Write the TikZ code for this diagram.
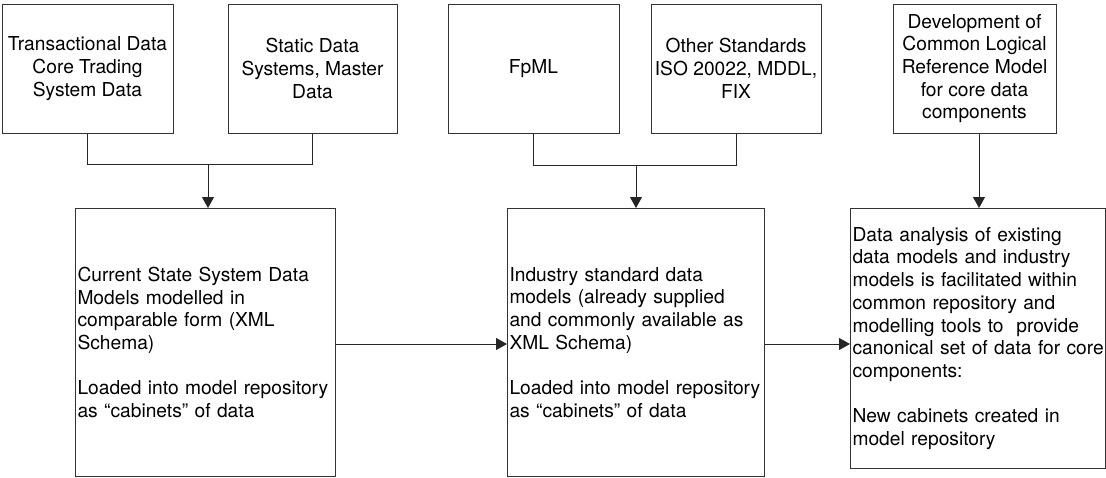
\documentclass[tikz,border=0pt]{standalone}
\usepackage{fontspec}
\setmainfont{TeX Gyre Heros}
\usetikzlibrary{arrows.meta}
\begin{document}
\begin{tikzpicture}[x=1pt,y=-1pt,
  font=\fontsize{19.2}{22.7}\selectfont,
  srcbox/.style={draw=black!80, line width=1pt, inner sep=0pt, align=center},
  modelbox/.style={draw=black!80, line width=1pt, inner xsep=2pt, inner ysep=0pt,
                   align=left, anchor=north west},
  link/.style={draw=black!85, line width=1pt},
  arr/.style={link, -{Triangle[length=11pt,width=12pt]}}]
\useasboundingbox (0,0) rectangle (1106,477);

% source boxes along the top
\node[srcbox, minimum width=171pt, minimum height=129pt] (t1) at (87.5,68.5)
  {Transactional Data\\Core Trading\\System Data};
\node[srcbox, minimum width=169pt, minimum height=129pt] (t2) at (312.5,68.5)
  {Static Data\\Systems, Master\\Data};
\node[srcbox, minimum width=171pt, minimum height=129pt] (t3) at (533.5,68.5)
  {FpML};
\node[srcbox, minimum width=170pt, minimum height=129pt] (t4) at (736,68.5)
  {Other Standards\\ISO 20022, MDDL,\\FIX};
\node[srcbox, minimum width=163pt, minimum height=129pt] (t5) at (974.5,68.5)
  {Development of\\Common Logical\\Reference Model\\for core data\\components};

% model boxes along the bottom
\node[modelbox, text width=256pt, minimum height=268pt] (b1) at (75,208)
  {Current State System Data\\Models modelled in\\comparable form (XML\\Schema)\\[22.7pt]
   Loaded into model repository\\as “cabinets” of data};
\node[modelbox, text width=253pt, minimum height=268pt] (b2) at (507,208)
  {Industry standard data\\models (already supplied\\and commonly available as\\XML Schema)\\[22.7pt]
   Loaded into model repository\\as “cabinets” of data};
\node[modelbox, text width=251pt, minimum height=260pt] (b3) at (850,208)
  {Data analysis of existing\\data models and industry\\models is facilitated within\\common repository and\\modelling tools to\ \ provide\\\mbox{canonical set of data for core}\\components:\\[22.7pt]
   New cabinets created in\\model repository};

% merge points and guide positions
\coordinate (j1) at (208,164);
\coordinate (j2) at (636,165);
\coordinate (j3) at (979,0);
\coordinate (h1) at (0,344);

% joined connectors into the model boxes
\draw[link] (t1.south) -- (t1.south |- j1) -- (t2.south |- j1) -- (t2.south);
\draw[arr] (j1) -- (j1 |- b1.north);
\draw[link] (t3.south) -- (t3.south |- j2) -- (t4.south |- j2) -- (t4.south);
\draw[arr] (j2) -- (j2 |- b2.north);
\draw[arr] (t5.south -| j3) -- (b3.north -| j3);

% flow between model boxes
\draw[arr] (b1.east |- h1) -- (b2.west |- h1);
\draw[arr] (b2.east |- h1) -- (b3.west |- h1);
\end{tikzpicture}
\end{document}
